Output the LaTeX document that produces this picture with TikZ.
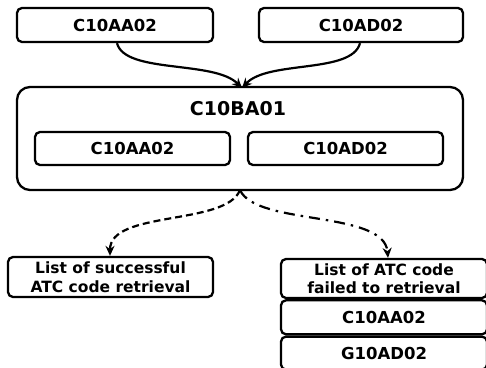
\documentclass[tikz,border=0pt]{standalone}
\usepackage{fontspec}
\setmainfont{DejaVu Sans}
\usetikzlibrary{arrows.meta}
\tikzset{
  box/.style={draw, line width=2.3pt, rounded corners=5pt, inner sep=0pt,
    font=\bfseries\fontsize{16.5}{19}\selectfont, align=center},
  listbox/.style={box, font=\bfseries\fontsize{15.5}{18.5}\selectfont},
  bigbox/.style={draw, line width=2.3pt, rounded corners=13pt, inner sep=0pt},
  title/.style={font=\bfseries\fontsize{19}{22}\selectfont, inner sep=0pt},
  link/.style={line width=2.2pt, -{Stealth[length=10pt,width=9pt]}},
  okline/.style={link, dash pattern=on 7pt off 4pt},
  failline/.style={link, dash pattern=on 11pt off 6pt on 2.5pt off 6pt},
}
\begin{document}
\begin{tikzpicture}[x=1pt, y=-1pt]
\useasboundingbox (0,0) rectangle (486,367);
% source codes
\node[box, minimum width=196pt, minimum height=34pt] (a) at (115,25) {C10AA02};
\node[box, minimum width=204pt, minimum height=34pt] (d) at (361,25) {C10AD02};
% combined code
\node[bigbox, minimum width=446pt, minimum height=103pt] (big) at (240,138.5) {};
\node[title] (bt) at (238,109) {C10BA01};
\node[box, minimum width=195pt, minimum height=33pt] (ia) at (132.5,148.5) {C10AA02};
\node[box, minimum width=195pt, minimum height=33pt] (id) at (345.5,148.5) {C10AD02};
% result lists
\node[listbox, minimum width=205pt, minimum height=40pt] (ok) at (110.5,277) {List of successful\\ATC code retrieval};
\node[listbox, minimum width=206pt, minimum height=39pt] (fail) at (384,278.5) {List of ATC code\\failed to retrieval};
\node[box, minimum width=206pt, minimum height=34pt, anchor=north] (f1) at (fail.south) {C10AA02};
\node[box, minimum width=206pt, minimum height=33pt, anchor=north] (f2) at (f1.south) {G10AD02};
% connectors
\coordinate (m) at (242,88);
\coordinate (s) at (240,190);
\draw[link] ([xshift=2pt]a.south) .. controls (125,74) and (214,60) .. (m);
\draw[link] ([xshift=-1pt]d.south) .. controls (352,74) and (268,60) .. (m);
\draw[okline] (s) .. controls (226,226) and (110,210) .. ([xshift=-0.5pt]ok.north);
\draw[failline] (s) .. controls (256,226) and (384,210) .. ([xshift=4pt]fail.north);
\end{tikzpicture}
\end{document}
